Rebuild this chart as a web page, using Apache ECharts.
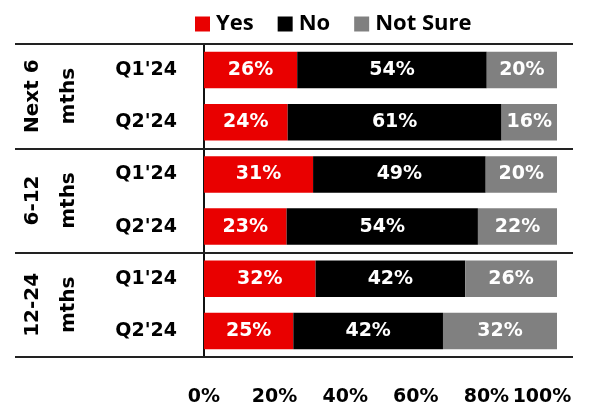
<!DOCTYPE html>
<html>
<head>
<meta charset="utf-8">
<script src="https://cdn.jsdelivr.net/npm/echarts@6/dist/echarts.min.js"></script>
<style>html,body{margin:0;padding:0;background:#fff}#c{width:606px;height:407px}</style>
</head>
<body>
<div id="c"></div>
<script>
const quarters = ["Q1'24", "Q2'24", "Q1'24", "Q2'24", "Q1'24", "Q2'24"];
const groups = ["Next 6\nmths", "6-12\nmths", "12-24\nmths"];
const yes = [26.4, 23.7, 30.9, 23.4, 31.6, 25.3];
const no = [53.7, 60.6, 48.9, 54.2, 42.4, 42.4];
const notSure = [19.9, 15.7, 20.2, 22.4, 26.0, 32.3];
const xTicks = [0, 20, 40, 60, 80, 100];

const F = 'DejaVu Sans';
const chart = echarts.init(document.getElementById('c'), null, {renderer: 'canvas'});
const lbl = {
  show: true, position: 'inside', color: '#fff', fontFamily: F, fontWeight: 'bold', fontSize: 19,
  formatter: p => Math.round(p.value) + '%'
};
function s(name, data, color) {
  return {name, type: 'bar', stack: 't', data, barWidth: '70%', itemStyle: {color}, label: lbl, yAxisIndex: 0, xAxisIndex: 0};
}
const lastTick = xTicks[xTicks.length - 1];
function xAx(onlyLast) {
  return {
    type: 'value', min: xTicks[0], max: lastTick, interval: 20, position: 'bottom',
    axisLine: {show: false}, axisTick: {show: false}, splitLine: {show: false},
    axisLabel: {
      margin: 31, color: '#000', fontFamily: F, fontWeight: 'bold', fontSize: 19,
      showMaxLabel: true, showMinLabel: true, hideOverlap: false,
      formatter: v => onlyLast ? (v === lastTick ? '{m|' + v + '%}' : '') : (v === lastTick ? '' : v + '%'),
      rich: {m: {padding: [0, 30, 0, 0], color: '#000', fontFamily: F, fontWeight: 'bold', fontSize: 19}}
    }
  };
}
chart.setOption({
  animation: false,
  legend: {
    top: 8, left: 190, itemWidth: 15, itemHeight: 15, itemGap: 24, icon: 'rect',
    textStyle: {fontFamily: 'Open Sans', fontWeight: 'bold', fontSize: 22, color: '#000', padding: [0, 0, 0, 1]},
    data: ['Yes', 'No', 'Not Sure']
  },
  grid: {left: 204, right: 49, top: 44, bottom: 48},
  xAxis: [xAx(false), xAx(true)],
  yAxis: [
    {
      type: 'category', inverse: true, data: quarters, position: 'left',
      axisLine: {show: true, lineStyle: {color: '#111', width: 2}},
      axisTick: {show: false},
      axisLabel: {margin: 27, color: '#000', fontFamily: F, fontWeight: 'bold', fontSize: 19}
    },
    {
      type: 'category', inverse: true, data: groups, position: 'left',
      axisLine: {show: false},
      axisTick: {show: true, length: 189, lineStyle: {color: '#222', width: 2}},
      axisLabel: {rotate: 90, margin: 117, color: '#000', fontFamily: F, fontWeight: 'bold', fontSize: 20, lineHeight: 36, align: 'center'}
    },
    {
      type: 'category', inverse: true, data: groups, position: 'left',
      axisLine: {show: false},
      axisTick: {show: true, inside: true, length: 369, lineStyle: {color: '#222', width: 2}},
      axisLabel: {show: false}
    }
  ],
  series: [
    s('Yes', yes, '#E90000'),
    s('No', no, '#000000'),
    s('Not Sure', notSure, '#808080')
  ]
});
</script>
</body>
</html>
